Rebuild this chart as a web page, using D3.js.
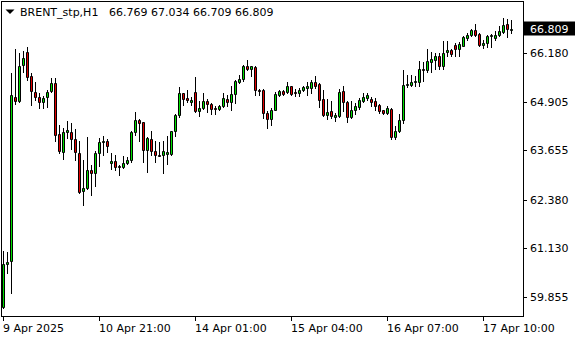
<!DOCTYPE html>
<html>
<head>
<meta charset="utf-8">
<script src="https://cdn.jsdelivr.net/npm/d3@7"></script>
<style>
  body { margin: 0; background: #fff; }
  svg { display: block; }
</style>
</head>
<body>
<div id="chart"></div>
<script>
// chart data, BRENT_stp H1
var symbol = "BRENT_stp,H1";

var opens = [59.604, 60.719, 60.796, 65.040, 64.925, 65.859, 66.206, 65.592, 65.169, 65.040,
  64.910, 65.040, 65.185, 65.402, 64.080, 63.603, 64.132, 64.132, 63.959, 63.588,
  62.593, 62.681, 63.155, 63.069, 63.588, 63.873, 63.907, 63.329, 63.388, 63.240,
  63.225, 63.329, 63.414, 64.132, 64.451, 64.391, 63.655, 63.959, 63.647, 63.526,
  63.526, 63.570, 63.562, 64.148, 64.563, 65.143, 65.014, 64.910, 65.169, 64.666,
  64.754, 64.943, 64.858, 64.754, 64.736, 64.796, 64.995, 64.900, 65.117, 65.428,
  65.514, 65.833, 65.765, 65.817, 65.229, 65.229, 64.625, 64.469, 64.710, 65.099,
  65.185, 65.159, 65.314, 65.159, 65.143, 65.210, 65.273, 65.273, 65.418, 65.384,
  64.988, 64.563, 64.685, 64.511, 64.537, 65.203, 64.900, 64.511, 64.692, 64.780,
  64.925, 65.014, 64.988, 64.925, 64.840, 64.692, 64.625, 64.736, 63.992, 64.148,
  64.443, 65.358, 65.350, 65.418, 65.418, 65.765, 65.729, 65.936, 66.006, 66.110,
  65.833, 66.196, 66.266, 66.395, 66.284, 66.369, 66.569, 66.636, 66.784, 66.680,
  66.377, 66.439, 66.610, 66.569, 66.636, 66.714, 66.939, 66.769];

var highs = [61.056, 61.030, 65.669, 66.291, 66.180, 66.240, 66.336, 65.662, 65.428, 65.143,
  65.055, 65.210, 65.532, 65.532, 64.321, 64.236, 64.425, 64.365, 64.218, 63.889,
  63.414, 63.992, 63.285, 63.629, 63.977, 64.018, 63.951, 63.588, 63.544, 63.285,
  63.518, 63.484, 64.148, 64.640, 64.469, 64.400, 63.990, 64.166, 63.889, 63.863,
  63.889, 64.018, 64.170, 64.590, 65.299, 65.150, 65.210, 65.040, 65.558, 64.925,
  65.143, 64.988, 64.884, 64.796, 64.840, 65.143, 65.099, 65.332, 65.488, 65.599,
  65.877, 66.006, 65.851, 65.840, 65.255, 65.247, 64.685, 64.754, 65.159, 65.229,
  65.229, 65.418, 65.332, 65.247, 65.273, 65.332, 65.418, 65.470, 65.592, 65.390,
  65.229, 64.988, 64.925, 64.625, 65.247, 65.332, 64.925, 64.925, 64.884, 65.014,
  65.143, 65.143, 65.040, 65.014, 64.858, 64.710, 64.814, 64.754, 64.278, 64.607,
  65.729, 65.617, 65.617, 65.574, 65.962, 65.936, 66.291, 66.206, 66.180, 66.180,
  66.481, 66.499, 66.284, 66.439, 66.455, 66.610, 66.698, 66.802, 66.939, 66.698,
  66.506, 66.654, 66.672, 66.740, 66.888, 67.087, 67.061, 67.034];

var lows = [59.578, 60.485, 59.967, 64.866, 64.900, 65.688, 65.470, 64.822, 64.969, 64.754,
  64.754, 64.780, 65.169, 63.889, 63.588, 63.440, 63.977, 63.699, 63.414, 62.551,
  62.248, 62.662, 62.507, 62.722, 63.240, 63.544, 63.603, 63.173, 63.155, 63.025,
  63.199, 63.311, 63.344, 64.062, 63.889, 63.354, 63.085, 63.544, 63.344, 63.500,
  63.069, 63.311, 63.526, 64.018, 64.521, 64.822, 64.900, 64.840, 64.651, 64.537,
  64.736, 64.640, 64.599, 64.607, 64.692, 64.770, 64.814, 64.710, 64.884, 65.402,
  65.444, 65.747, 65.574, 65.081, 65.099, 64.503, 64.236, 64.321, 64.692, 65.073,
  65.081, 65.143, 65.099, 65.073, 65.055, 65.185, 65.081, 65.143, 65.273, 64.780,
  64.537, 64.477, 64.495, 64.407, 64.520, 64.666, 64.381, 64.495, 64.607, 64.728,
  64.900, 64.969, 64.796, 64.710, 64.625, 64.599, 64.607, 63.951, 63.951, 64.122,
  64.365, 65.306, 65.314, 65.314, 65.314, 65.444, 65.677, 65.677, 65.765, 65.765,
  65.765, 66.092, 66.110, 66.092, 66.092, 66.351, 66.524, 66.610, 66.628, 66.369,
  66.310, 66.325, 66.335, 66.506, 66.610, 66.698, 66.595, 66.709];

var closes = [60.719, 60.771, 65.099, 64.925, 65.851, 66.050, 65.558, 65.185, 65.040, 64.910,
  65.014, 65.169, 65.402, 64.044, 63.629, 64.132, 64.174, 63.959, 63.603, 62.577,
  62.681, 63.155, 63.069, 63.588, 63.873, 63.907, 63.777, 63.388, 63.225, 63.233,
  63.329, 63.414, 64.132, 64.451, 64.365, 63.655, 63.977, 63.647, 63.526, 63.500,
  63.647, 63.614, 64.166, 64.581, 65.143, 64.988, 64.951, 64.969, 64.666, 64.754,
  64.943, 64.858, 64.728, 64.728, 64.796, 65.014, 64.900, 65.125, 65.444, 65.514,
  65.833, 65.765, 65.833, 65.210, 65.185, 64.625, 64.469, 64.710, 65.125, 65.185,
  65.117, 65.314, 65.125, 65.143, 65.229, 65.288, 65.314, 65.418, 65.332, 64.969,
  64.563, 64.651, 64.537, 64.581, 65.169, 64.910, 64.511, 64.710, 64.796, 64.969,
  65.040, 65.099, 64.900, 64.814, 64.666, 64.625, 64.754, 63.992, 64.166, 64.451,
  65.358, 65.384, 65.418, 65.444, 65.765, 65.729, 65.962, 66.032, 66.110, 65.833,
  66.180, 66.266, 66.154, 66.284, 66.421, 66.584, 66.654, 66.766, 66.654, 66.377,
  66.439, 66.628, 66.636, 66.654, 66.758, 66.913, 66.802, 66.809];

// x axis labels sit on these bar numbers
var xTickBars = [0, 24, 48, 72, 96, 120];
var xTickLabels = ["9 Apr 2025", "10 Apr 21:00", "14 Apr 01:00", "15 Apr 04:00", "16 Apr 07:00", "17 Apr 10:00"];
var yTicks = [66.180, 64.905, 63.655, 62.380, 61.130, 59.855];

var svgWidth = 580;
var svgHeight = 340;
var font = "DejaVu Sans, Verdana, sans-serif";

var candles = opens.map(function(o, i) {
  return { i: i, open: o, high: highs[i], low: lows[i], close: closes[i] };
});

var svg = d3.select("#chart")
  .append("svg")
  .attr("width", svgWidth)
  .attr("height", svgHeight);

svg.append("rect")
  .attr("width", svgWidth)
  .attr("height", svgHeight)
  .attr("fill", "#fff");

// 4px per bar, first bar on column 3
var xScale = d3.scaleLinear()
  .domain([0, candles.length - 1])
  .range([3, 3 + 4 * (candles.length - 1)]);

var yScale = d3.scaleLinear()
  .domain([59.855, 66.180])
  .range([297, 53])
  .interpolate(d3.interpolateRound);

// wicks
svg.append("g")
  .selectAll("line")
  .data(candles)
  .enter()
  .append("line")
  .attr("x1", d => xScale(d.i) + 0.5)
  .attr("x2", d => xScale(d.i) + 0.5)
  .attr("y1", d => yScale(d.high))
  .attr("y2", d => yScale(d.low) + 1)
  .attr("stroke", "#000")
  .attr("stroke-width", 1);

// bodies, black outline with green / red fill
svg.append("g")
  .selectAll("path")
  .data(candles)
  .enter()
  .append("path")
  .attr("d", function(d) {
    var x0 = xScale(d.i) - 0.5;
    var x1 = xScale(d.i) + 1.5;
    var top = yScale(Math.max(d.open, d.close)) + 0.5;
    var bot = yScale(Math.min(d.open, d.close)) + 0.5;
    return "M" + x0 + "," + top + "H" + x1 + "V" + bot + "H" + x0 + "Z";
  })
  .attr("fill", d => d.close >= d.open ? "#00e000" : "#e00000")
  .attr("stroke", "#000")
  .attr("stroke-width", 1);

// frame
svg.append("rect")
  .attr("x", 1.5)
  .attr("y", 1.5)
  .attr("width", 522)
  .attr("height", 315)
  .attr("fill", "none")
  .attr("stroke", "#000");

// price axis on the right
var rightAxis = d3.axisRight(yScale)
  .tickValues(yTicks)
  .tickSize(4)
  .tickPadding(3)
  .tickFormat(d3.format(".3f"));

var yAxisG = svg.append("g")
  .attr("transform", "translate(523,0)")
  .call(rightAxis);
yAxisG.select(".domain").remove();
yAxisG.attr("font-family", font).attr("font-size", 11);
yAxisG.selectAll("text").attr("fill", "#000");

// time axis
var bottomAxis = d3.axisBottom(xScale)
  .tickValues(xTickBars)
  .tickSize(5)
  .tickPadding(3)
  .tickFormat((d, k) => xTickLabels[k]);

var xAxisG = svg.append("g")
  .attr("transform", "translate(0,316)")
  .call(bottomAxis);
xAxisG.select(".domain").remove();
xAxisG.attr("font-family", font).attr("font-size", 11);
xAxisG.selectAll("text").attr("text-anchor", "start").attr("x", -0.5).attr("fill", "#000");

// last price label
var last = candles[candles.length - 1];
var yLast = yScale(last.close);
svg.append("rect")
  .attr("x", 524)
  .attr("y", yLast - 7.5)
  .attr("width", 51)
  .attr("height", 14)
  .attr("fill", "#000");
svg.append("text")
  .attr("x", 530)
  .attr("y", yLast + 3.5)
  .attr("font-family", font)
  .attr("font-size", 11)
  .attr("fill", "#fff")
  .text(d3.format(".3f")(last.close));

// header: triangle, symbol and OHLC of the last bar
svg.append("path")
  .attr("d", "M5.5,9.5 L14.5,9.5 L10,14 Z")
  .attr("fill", "#000");

var header = svg.append("text")
  .attr("y", 16)
  .attr("font-family", font)
  .attr("font-size", 11)
  .attr("fill", "#000");
header.append("tspan").attr("x", 20).text(symbol);
header.append("tspan").attr("x", 109)
  .text([last.open, last.high, last.low, last.close].map(d3.format(".3f")).join(" "));
</script>
</body>
</html>
